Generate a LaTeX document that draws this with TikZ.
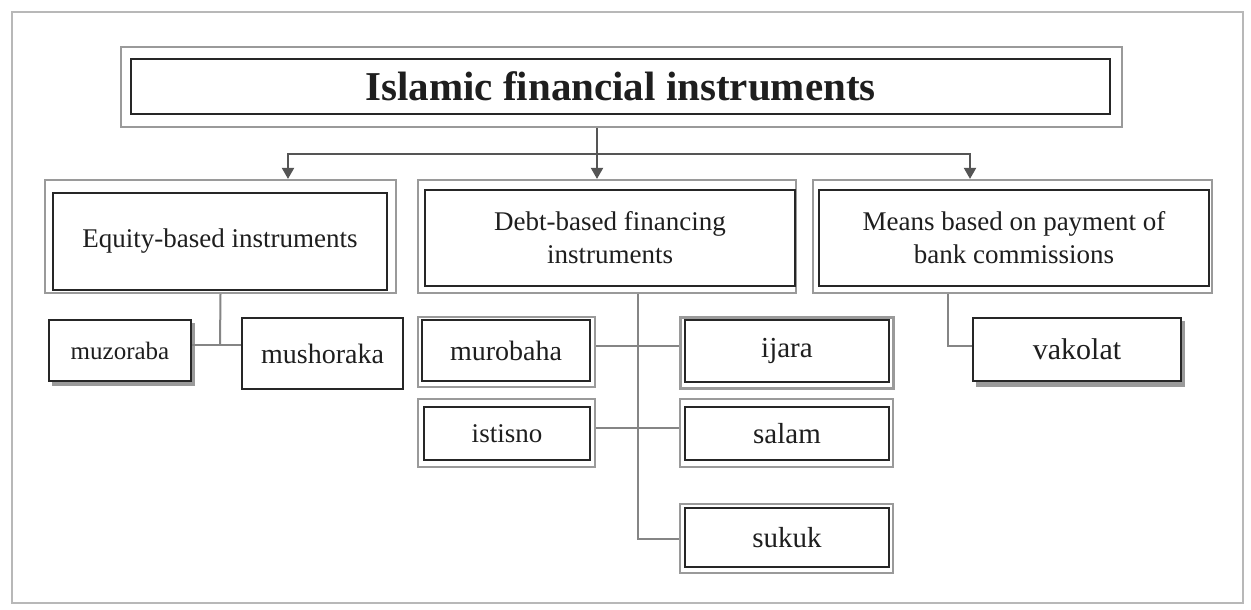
\documentclass[tikz,border=0pt]{standalone}
\usepackage{fontspec}
\setmainfont{Liberation Serif}
\usetikzlibrary{arrows.meta}
\definecolor{framegray}{HTML}{B8B8B8}
\definecolor{outgray}{HTML}{9A9A9A}
\definecolor{conngray}{HTML}{858585}
\definecolor{darkconn}{HTML}{555555}
\definecolor{txt}{HTML}{1E1E1E}
\tikzset{
  outerbox/.style={draw=outgray, line width=2.2pt, inner sep=0pt, fill=white},
  innerbox/.style={draw=black!85, line width=2.2pt, inner sep=0pt, align=center, text=txt},
  lvltwo/.style={font=\fontsize{27}{33}\selectfont},
  leaf/.style={font=\fontsize{29}{33}\selectfont},
  conn/.style={draw=conngray, line width=2pt},
  arr/.style={draw=darkconn, line width=2pt, -{Triangle[width=12pt,length=11pt]}},
}
\begin{document}
\begin{tikzpicture}[x=1pt,y=-1pt]
\useasboundingbox (0,0) rectangle (1251,610);
\fill[white] (0,0) rectangle (1251,610);
\draw[framegray, line width=2pt] (12,12) rectangle (1243,603);

% title
\node[outerbox, minimum width=1001, minimum height=80] (titleo) at (621.5,87) {};
\node[innerbox, minimum width=979, minimum height=55, font=\fontsize{41}{43}\selectfont\bfseries] (title) at (620.5,86.5) {Islamic financial instruments};

% level two
\node[outerbox, minimum width=351, minimum height=113] (eqo) at (220.5,236.5) {};
\node[innerbox, lvltwo, minimum width=334, minimum height=97] (eq) at (220,241.5) {Equity-based instruments};
\node[outerbox, minimum width=378, minimum height=113] (debto) at (607,236.5) {};
\node[innerbox, lvltwo, minimum width=370, minimum height=96] (debt) at (610,238) {Debt-based financing\\instruments};
\node[outerbox, minimum width=399, minimum height=113] (meanso) at (1012.5,236.5) {};
\node[innerbox, lvltwo, minimum width=390, minimum height=96] (means) at (1014,238) {Means based on payment of\\bank commissions};

% leaves: equity
\fill[outgray] (52,323) rectangle (195,386);
\node[innerbox, minimum width=142, minimum height=61, fill=white, font=\fontsize{25}{30}\selectfont] (muz) at (120,350.5) {muzoraba};
\node[innerbox, line width=1.6pt, minimum width=161, minimum height=71, fill=white, font=\fontsize{28}{30}\selectfont] (mush) at (322.5,353.5) {mushoraka};

% leaves: debt
\node[outerbox, minimum width=177, minimum height=70] (murobo) at (506.5,352) {};
\node[innerbox, minimum width=168, minimum height=61, font=\fontsize{28}{30}\selectfont] (murob) at (506,350.5) {murobaha};
\node[outerbox, minimum width=213, minimum height=71, line width=3pt] (ijarao) at (786.5,352.5) {};
\node[innerbox, minimum width=204, minimum height=62, leaf] (ijara) at (787,351) {ijara};
\node[outerbox, minimum width=177, minimum height=68] (istiso) at (506.5,433) {};
\node[innerbox, minimum width=166, minimum height=53, font=\fontsize{27}{30}\selectfont] (istis) at (507,433.5) {istisno};
\node[outerbox, minimum width=213, minimum height=68] (salamo) at (786.5,433) {};
\node[innerbox, minimum width=204, minimum height=53, leaf] (salam) at (787,433.5) {salam};
\node[outerbox, minimum width=213, minimum height=69] (sukuko) at (786.5,538.5) {};
\node[innerbox, minimum width=204, minimum height=59, leaf] (sukuk) at (787,537.5) {sukuk};

% leaves: means
\fill[outgray] (976,321) rectangle (1185,387);
\node[innerbox, minimum width=208, minimum height=63, fill=white, font=\fontsize{30}{32}\selectfont] (vak) at (1077,349.5) {vakolat};

% connectors from title
\coordinate (hub) at (597,154);
\draw[conn, draw=darkconn] (titleo.south -| hub) -- (hub);
\draw[darkconn, line width=2pt] (288,154) -- (970,154);
\draw[arr] (hub) -| ([xshift=67.5pt]eqo.north);
\draw[arr] (hub) -- (hub |- debto.north);
\draw[arr] (hub) -| ([xshift=-42.5pt]meanso.north);

% equity children
\coordinate (ej) at (220,345);
\draw[conn] (eqo.south) -- (ej);
\draw[conn] (muz.east |- ej) -- (mush.west |- ej);

% debt children
\coordinate (dj) at (638,539);
\draw[conn] (debto.south -| dj) -- (dj) -- (sukuko.west |- dj);
\draw[conn] (murobo.east |- 0,346) -- (ijarao.west |- 0,346);
\draw[conn] (istiso.east |- 0,428) -- (salamo.west |- 0,428);

% means children
\coordinate (mj) at (948,346);
\draw[conn] (meanso.south -| mj) -- (mj) -- (vak.west |- mj);
\end{tikzpicture}
\end{document}
